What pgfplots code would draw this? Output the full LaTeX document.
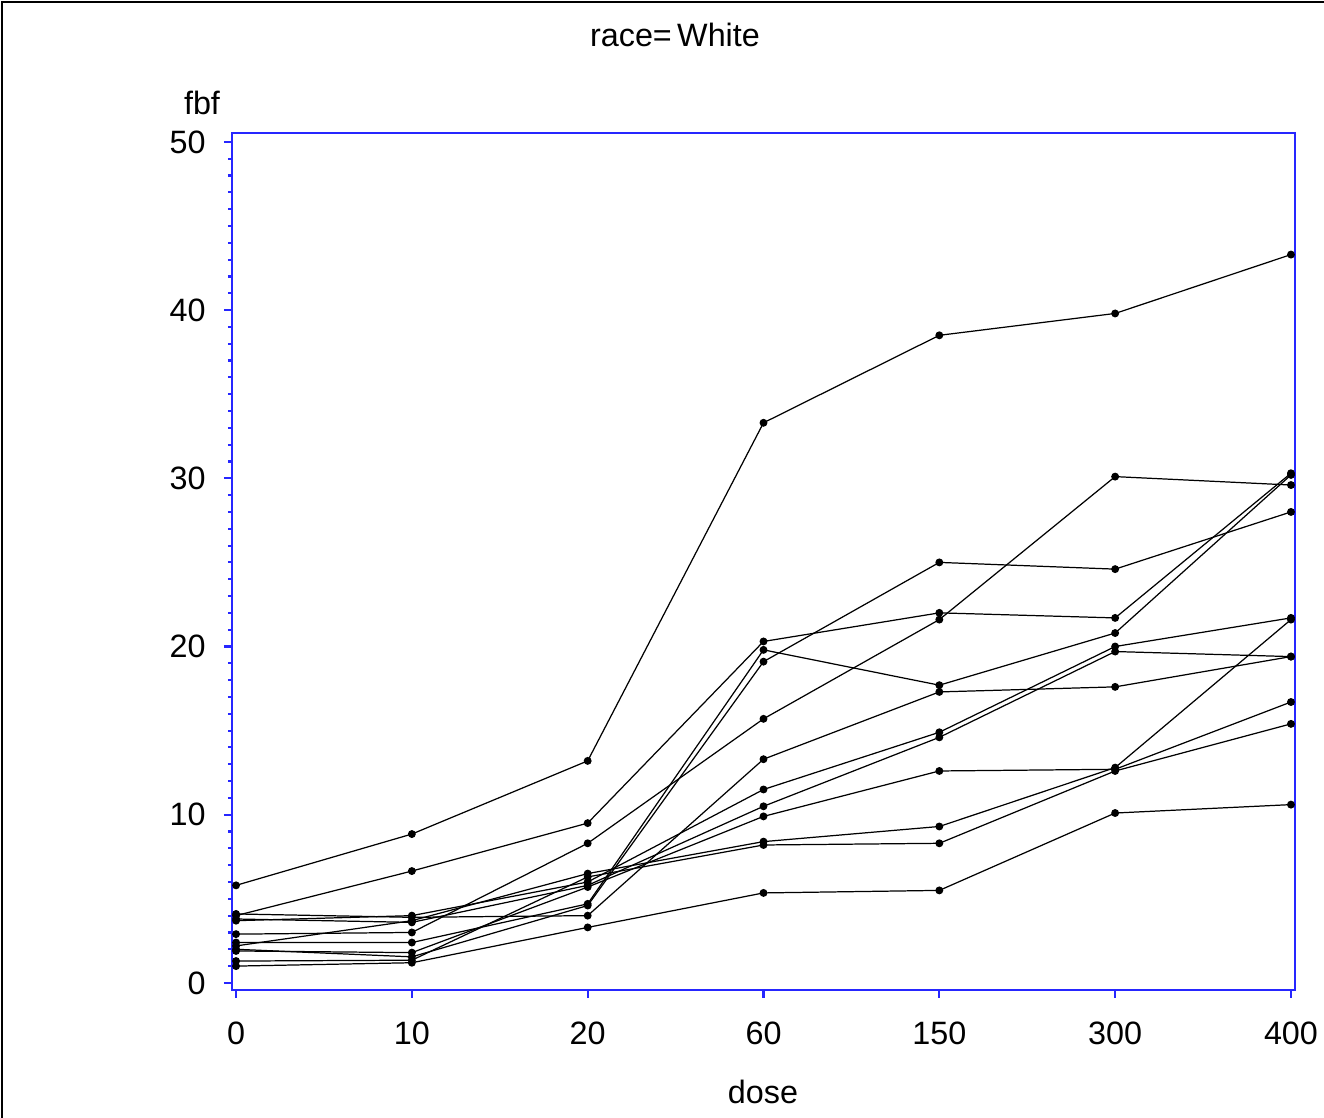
\documentclass[border=0pt]{standalone}
\usepackage{fontspec}
\setmainfont{Liberation Sans}
\usepackage{pgfplots}
\pgfplotsset{compat=1.18}
\pgfplotsset{subj/.style={black, solid, line width=0.35pt, mark=*, mark size=0.33mm, mark options={solid, fill=black, draw=black}}}
\begin{document}
\begin{tikzpicture}
\path[use as bounding box] (0,0) rectangle (132.4mm,111.8mm);
\draw[black, line width=0.7pt] (0.2mm,0) -- (0.2mm,111.6mm) -- (132.4mm,111.6mm);
\begin{axis}[
  at={(23.2mm,12.8mm)}, anchor=south west, scale only axis,
  width=106.3mm, height=85.7mm,
  xmin=-0.023, xmax=6.023, ymin=-0.42, ymax=50.53,
  axis line style={draw=blue!85!white, line width=0.6pt},
  every tick/.style={draw=blue!85!white, line width=0.6pt},
  xtick={0,...,6}, xticklabels={0,10,20,60,150,300,400},
  ytick={0,10,...,50}, yticklabels={0,10,20,30,40,50},
  minor ytick={0,...,50},
  xtick pos=left, ytick pos=left,
  tick align=outside,
  major tick length=0.8mm, minor tick length=0.4mm,
  tick label style={font=\fontsize{9.2}{10}\selectfont},
  xticklabel style={yshift=-1.2mm},
  yticklabel style={xshift=-0.6mm},
  clip=false,
]
\addplot[subj] coordinates {(0,5.8) (1,8.85) (2,13.2) (3,33.3) (4,38.5) (5,39.8) (6,43.3)};
\addplot[subj] coordinates {(0,4.0) (1,6.65) (2,9.5) (3,20.3) (4,22.0) (5,21.7) (6,30.3)};
\addplot[subj] coordinates {(0,2.9) (1,3.0) (2,8.3) (3,15.7) (4,21.6) (5,30.1) (6,29.6)};
\addplot[subj] coordinates {(0,2.4) (1,2.4) (2,4.7) (3,19.8) (4,17.7) (5,20.8) (6,30.2)};
\addplot[subj] coordinates {(0,2.0) (1,1.55) (2,4.6) (3,19.1) (4,25.0) (5,24.6) (6,28.0)};
\addplot[subj] coordinates {(0,4.1) (1,3.9) (2,4.0) (3,13.3) (4,17.3) (5,17.6) (6,19.4)};
\addplot[subj] coordinates {(0,3.7) (1,4.0) (2,6.0) (3,11.5) (4,14.9) (5,20.0) (6,21.7)};
\addplot[subj] coordinates {(0,3.8) (1,3.6) (2,5.8) (3,10.5) (4,14.6) (5,19.7) (6,19.4)};
\addplot[subj] coordinates {(0,1.9) (1,1.8) (2,5.7) (3,9.9) (4,12.6) (5,12.7) (6,16.7)};
\addplot[subj] coordinates {(0,2.2) (1,3.7) (2,6.5) (3,8.4) (4,9.3) (5,12.8) (6,21.6)};
\addplot[subj] coordinates {(0,1.3) (1,1.35) (2,6.3) (3,8.2) (4,8.3) (5,12.6) (6,15.4)};
\addplot[subj] coordinates {(0,1.0) (1,1.2) (2,3.3) (3,5.35) (4,5.5) (5,10.1) (6,10.6)};
\end{axis}
\node[font=\fontsize{9.2}{10}\selectfont] at (67.5mm,108.3mm) {race=\,White};
\node[font=\fontsize{9.2}{10}\selectfont] at (20.2mm,101.5mm) {fbf};
\node[font=\fontsize{9.2}{10}\selectfont] at (76.3mm,2.6mm) {dose};
\end{tikzpicture}
\end{document}
